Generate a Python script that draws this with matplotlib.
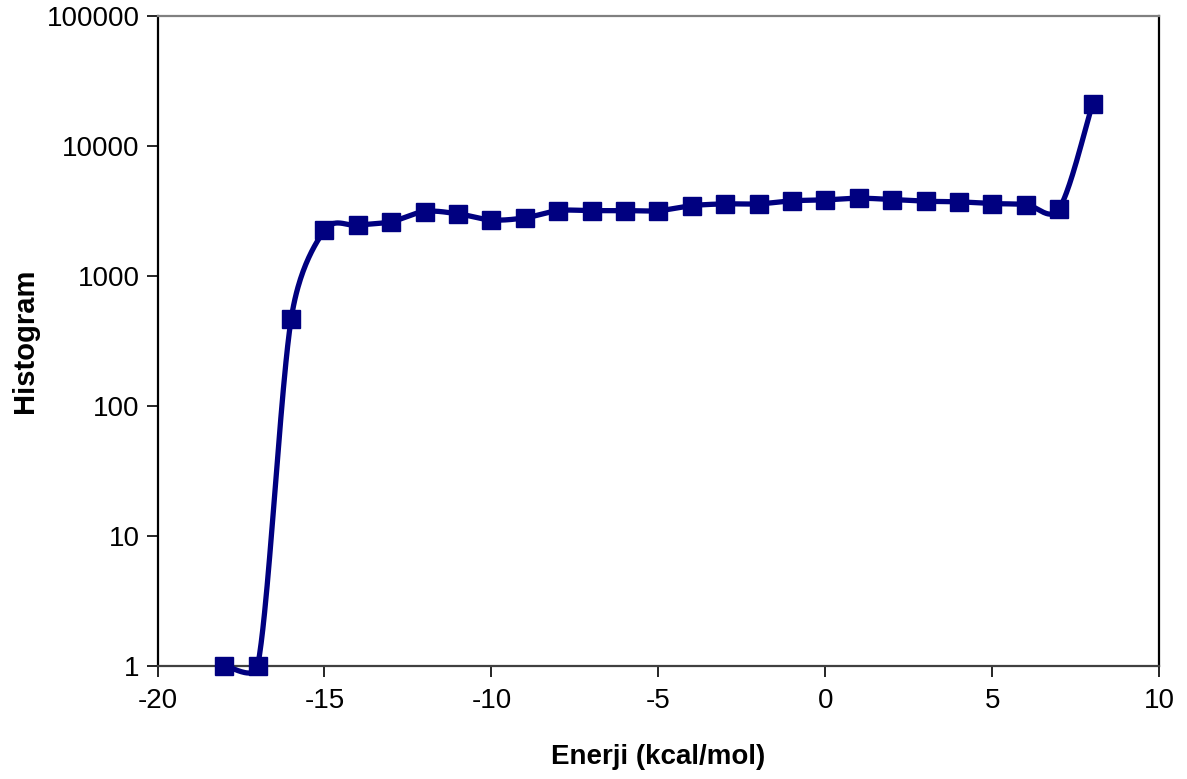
import numpy as np
import matplotlib.pyplot as plt

plt.rcParams['font.family'] = ['Liberation Sans', 'DejaVu Sans']

# energy bins and counts
energy = [-18, -17, -16, -15, -14, -13, -12, -11, -10, -9, -8, -7, -6, -5,
          -4, -3, -2, -1, 0, 1, 2, 3, 4, 5, 6, 7, 8]
counts = [1, 1, 460, 2230, 2440, 2600, 3110, 2985, 2680, 2780, 3160, 3160,
          3160, 3160, 3450, 3560, 3560, 3760, 3820, 3935, 3845, 3730, 3690,
          3580, 3520, 3270, 21050]

x_ticks = [-20, -15, -10, -5, 0, 5, 10]
y_ticks = [1, 10, 100, 1000, 10000, 100000]


def smooth_curve(x, y, n=40):
    # Catmull-Rom style Bezier; handles capped at half the segment length
    pts = np.column_stack([x, y]).astype(float)
    out = []
    for i in range(len(pts) - 1):
        p0 = pts[i - 1] if i > 0 else pts[i]
        p1 = pts[i]
        p2 = pts[i + 1]
        p3 = pts[i + 2] if i + 2 < len(pts) else pts[i + 1]
        cap = np.hypot(*(p2 - p1)) * 0.5
        h1 = (p2 - p0) / 6
        h2 = (p3 - p1) / 6
        h1 *= min(1.0, cap / np.hypot(*h1))
        h2 *= min(1.0, cap / np.hypot(*h2))
        c1 = p1 + h1
        c2 = p2 - h2
        t = np.linspace(0, 1, n)[:, None]
        seg = ((1 - t) ** 3 * p1 + 3 * (1 - t) ** 2 * t * c1
               + 3 * (1 - t) * t ** 2 * c2 + t ** 3 * p2)
        out.append(seg if i == 0 else seg[1:])
    out = np.vstack(out)
    return out[:, 0], out[:, 1]


fig = plt.figure(figsize=(11.87, 7.79), dpi=100)
ax = fig.add_axes([0.1327, 0.1454, 0.8440, 0.8347])

# smooth in screen proportions (x units vs. log decades)
kx, ky = 33.4, 130.0
sx, sy = smooth_curve(np.array(energy) * kx, np.log10(counts) * ky)
ax.plot(sx / kx, 10 ** (sy / ky), color='#000080', lw=3.8,
        solid_capstyle='round', zorder=3, clip_on=False)
ax.plot(energy, counts, ls='none', marker='s', ms=13.5, color='#000080',
        zorder=4, clip_on=False)

ax.set_yscale('log')
ax.set_xlim(-20, 10)
ax.set_ylim(1, 100000)
ax.set_xticks(x_ticks)
ax.set_xticklabels([str(v) for v in x_ticks])
ax.set_yticks(y_ticks)
ax.set_yticklabels([str(v) for v in y_ticks])
ax.yaxis.set_minor_locator(plt.NullLocator())

ax.tick_params(axis='both', direction='out', length=8, width=1.2,
               labelsize=20, colors='black', pad=8)
ax.tick_params(axis='y', pad=5)

ax.spines['left'].set_color('black')
ax.spines['right'].set_color('black')
ax.spines['top'].set_color('#808080')
ax.spines['bottom'].set_color('#404040')
for s in ax.spines.values():
    s.set_linewidth(1.6)

ax.set_xlabel('Enerji (kcal/mol)', fontsize=20, fontweight='bold', va='center')
ax.set_ylabel('Histogram', fontsize=21, fontweight='bold', va='center')
ax.xaxis.set_label_coords(0.5, -0.14)
ax.yaxis.set_label_coords(-0.132, 0.5)

fig.savefig('out.png', dpi=100)
